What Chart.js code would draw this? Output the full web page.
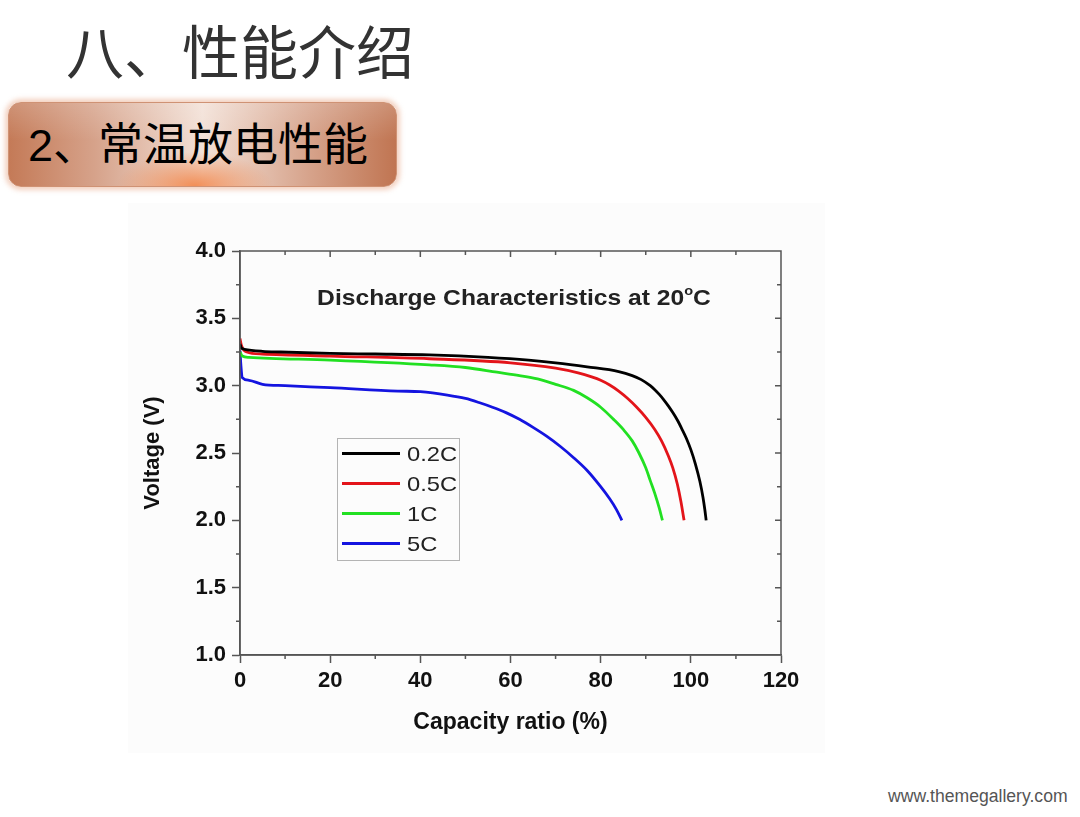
<!DOCTYPE html>
<html lang="zh-CN">
<head>
<meta charset="utf-8">
<title>八、性能介绍 - 常温放电性能</title>
<script src="https://cdn.jsdelivr.net/npm/chart.js@4.4.1/dist/chart.umd.min.js"></script>
<style>
  html, body { margin: 0; padding: 0; background: #fff; }
  body { width: 1080px; height: 817px; position: relative; overflow: hidden;
         font-family: "Liberation Sans", Arial, sans-serif; }

  .page-title { position: absolute; left: 66px; top: 20px; white-space: nowrap;
                font: 58px/1 "Noto Sans CJK SC", sans-serif; color: #333; }

  .section { position: absolute; left: 8px; top: 102px; width: 389px; height: 85px;
             box-sizing: border-box; border-radius: 13px; border: 1px solid #cf9274;
             background:
               radial-gradient(78px 34px at 48% 100%, rgba(242,138,80,0.95), rgba(242,138,80,0)),
               linear-gradient(180deg, rgba(255,255,255,0.18), rgba(255,255,255,0) 45%),
               linear-gradient(90deg, #c47a57 0%, #d6a28a 22%, #f2e0d6 50%, #d6a28a 78%, #c07552 100%);
             box-shadow: 0 0 5px 3px rgba(238,190,165,0.7); }
  .section span { position: absolute; left: 19px; top: 16px; white-space: nowrap;
                  font: 45px/1 "Noto Sans CJK SC", sans-serif; color: #000; }
  .section b { font-weight: normal; font-family: "Liberation Sans", Arial, sans-serif; }

  .plot { position: absolute; left: 128px; top: 203px; width: 697px; height: 550px; background: #fcfcfc; }

  .plot-title { position: absolute; left: 514px; top: 297px; white-space: nowrap;
                transform: translate(-50%, -50%) scaleX(1.12);
                font: bold 22px "Liberation Sans", Arial, sans-serif; color: #222; }
  .plot-title sup { font-size: 13px; vertical-align: 10px; }

  .legend { position: absolute; left: 337px; top: 438px; width: 123px; height: 123px;
            box-sizing: border-box; border: 1.5px solid #b4b4b4; }
  .legend .row { position: absolute; left: 4px; height: 24px; display: flex; align-items: center; }
  .legend .swatch { width: 58px; height: 3px; }
  .legend .label { margin-left: 7px; font: 21px/1 "Liberation Sans", Arial, sans-serif; color: #222;
                   transform: scaleX(1.13); transform-origin: left center; }

  .footer { position: absolute; left: 888px; top: 786px; font: 17.6px/20px "Liberation Sans", Arial, sans-serif; color: #555; }
</style>
</head>
<body>

<div class="page-title">八、性能介绍</div>
<div class="section"><span><b>2</b>、常温放电性能</span></div>

<div class="plot"><canvas id="dischargeChart"></canvas></div>
<div class="plot-title">Discharge Characteristics at 20<sup>o</sup>C</div>
<div class="legend" id="legendBox"></div>

<div class="footer">www.themegallery.com</div>

<script>
'use strict';

// ─── Data ─────────────────────────────────────────────────────
const seriesNames  = ['0.2C', '0.5C', '1C', '5C'];
const seriesColors = ['#000000', '#e3141a', '#22e022', '#1414e0'];

const cap02  = [0, 0.3, 1, 5, 9, 20, 30, 42, 55, 64, 70, 77, 84, 87, 89, 91, 92, 93, 94, 95, 96, 97, 98, 99, 100, 101, 102, 102.7, 103.1, 103.4];
const volt02 = [3.31, 3.28, 3.27, 3.255, 3.25, 3.24, 3.235, 3.228, 3.21, 3.19, 3.17, 3.14, 3.105, 3.075, 3.045, 3.0, 2.97, 2.935, 2.895, 2.85, 2.80, 2.745, 2.68, 2.61, 2.525, 2.42, 2.29, 2.17, 2.08, 2.0];

const cap05  = [0, 0.3, 1.5, 5, 20, 42, 60, 70, 75, 78, 80, 82, 84, 86, 88, 90, 92, 93.5, 95, 96, 97, 97.8, 98.5];
const volt05 = [3.35, 3.30, 3.25, 3.235, 3.22, 3.20, 3.17, 3.13, 3.095, 3.065, 3.04, 3.005, 2.96, 2.905, 2.84, 2.765, 2.675, 2.59, 2.48, 2.39, 2.27, 2.14, 2.0];

const cap1   = [0, 0.5, 2, 20, 42, 50, 57, 62, 66, 70, 74, 77, 80, 83, 85, 87, 88.5, 90, 91, 92, 93, 93.7];
const volt1  = [3.25, 3.22, 3.21, 3.19, 3.155, 3.135, 3.10, 3.075, 3.05, 3.01, 2.965, 2.91, 2.84, 2.745, 2.675, 2.59, 2.50, 2.39, 2.295, 2.20, 2.09, 2.0];

const cap5   = [0, 0.2, 0.5, 2, 5, 10, 20, 35, 40, 46, 50, 53, 56, 59, 62, 65, 68, 71, 74, 77, 80, 82, 83.5, 84.7];
const volt5  = [3.26, 3.15, 3.06, 3.04, 3.01, 3.0, 2.985, 2.96, 2.955, 2.93, 2.905, 2.875, 2.84, 2.80, 2.75, 2.69, 2.625, 2.55, 2.465, 2.37, 2.25, 2.16, 2.08, 2.0];

const capacitySets = [cap02, cap05, cap1, cap5];
const voltageSets  = [volt02, volt05, volt1, volt5];

const xTickStep = 20;
const yTickStep = 0.5;

// ─── Helpers ──────────────────────────────────────────────────
const AXIS_COLOR = '#555';
const TEXT_COLOR = '#111';
const FONT       = '"Liberation Sans", Arial, sans-serif';

function toPoints(xs, ys) {
  return xs.map((x, i) => ({ x, y: ys[i] }));
}

// frame round the plot + minor ticks (Origin style)
const axisFrame = {
  id: 'axisFrame',
  afterDraw(chart) {
    const { ctx, chartArea: a, scales: { x, y } } = chart;
    ctx.save();
    ctx.strokeStyle = AXIS_COLOR;
    ctx.lineWidth = 1.5;
    ctx.strokeRect(a.left, a.top, a.right - a.left, a.bottom - a.top);

    ctx.beginPath();
    for (let i = 1; i * 10 < x.max; i++) {
      const px = x.getPixelForValue(x.min + i * 10);
      const major = i % 2 === 0;
      if (!major) { ctx.moveTo(px, a.bottom); ctx.lineTo(px, a.bottom + 4); }
      ctx.moveTo(px, a.top); ctx.lineTo(px, a.top + (major ? 6 : 4));
    }
    for (let i = 1; y.min + i * 0.25 < y.max; i++) {
      const py = y.getPixelForValue(y.min + i * 0.25);
      const major = i % 2 === 0;
      if (!major) { ctx.moveTo(a.left, py); ctx.lineTo(a.left - 4, py); }
      ctx.moveTo(a.right, py); ctx.lineTo(a.right - (major ? 6 : 4), py);
    }
    ctx.stroke();
    ctx.restore();
  }
};

// ─── Legend (HTML, inside the plot) ───────────────────────────
function renderLegend() {
  const el = document.getElementById('legendBox');
  el.innerHTML = seriesNames.map((name, i) => `
    <div class="row" style="top:${2.5 + i * 30}px;">
      <span class="swatch" style="background:${seriesColors[i]};"></span>
      <span class="label">${name}</span>
    </div>`).join('');
}

// ─── Chart ────────────────────────────────────────────────────
function renderDischargeChart() {
  const ctx = document.getElementById('dischargeChart');

  const datasets = seriesNames.map((name, i) => ({
    label: name,
    data: toPoints(capacitySets[i], voltageSets[i]),
    borderColor: seriesColors[i],
    backgroundColor: seriesColors[i],
    borderWidth: 2.8,
    pointRadius: 0,
    fill: false,
    cubicInterpolationMode: 'monotone',
  }));

  new Chart(ctx, {
    type: 'line',
    data: { datasets },
    options: {
      responsive: true,
      maintainAspectRatio: false,
      animation: false,
      layout: { padding: { top: 48, right: 44, left: 0, bottom: 0 } },
      plugins: { legend: { display: false }, tooltip: { enabled: false } },
      scales: {
        x: {
          type: 'linear',
          min: 0, max: 120,
          afterFit: s => { s.height = 98; },
          ticks: { stepSize: xTickStep, padding: 5, maxRotation: 0, color: TEXT_COLOR,
                   font: { family: FONT, size: 22, weight: 'bold' } },
          grid: { drawOnChartArea: false, tickLength: 8, tickColor: AXIS_COLOR, tickWidth: 1.5 },
          border: { color: AXIS_COLOR, width: 1.5 },
          title: { display: true, text: 'Capacity ratio (%)', color: TEXT_COLOR,
                   font: { family: FONT, size: 23, weight: 'bold' }, padding: { top: 0, bottom: 17 } },
        },
        y: {
          type: 'linear',
          min: 1, max: 4,
          afterFit: s => { s.width = 112; },
          ticks: { stepSize: yTickStep, padding: 6, color: TEXT_COLOR,
                   callback: v => v.toFixed(1),
                   font: { family: FONT, size: 22, weight: 'bold' } },
          grid: { drawOnChartArea: false, tickLength: 8, tickColor: AXIS_COLOR, tickWidth: 1.5 },
          border: { color: AXIS_COLOR, width: 1.5 },
          title: { display: true, text: 'Voltage (V)', color: TEXT_COLOR,
                   font: { family: FONT, size: 22, weight: 'bold' }, padding: { top: 12, bottom: 0 } },
        },
      },
    },
    plugins: [axisFrame],
  });
}

renderLegend();
renderDischargeChart();
</script>
</body>
</html>
